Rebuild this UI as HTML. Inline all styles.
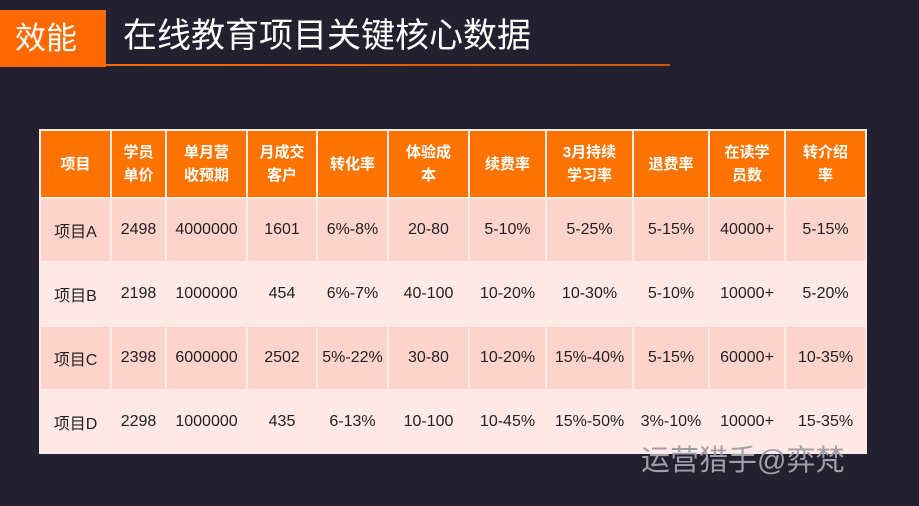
<!DOCTYPE html>
<html><head><meta charset="utf-8">
<style>
body{margin:0;width:919px;height:506px;background:#23202f;position:relative;overflow:hidden;font-family:"Liberation Sans","Noto Sans CJK SC",sans-serif;}
#tag{position:absolute;left:0;top:10px;width:106px;height:57px;background:#ff6a00;color:#fff;font-size:31px;line-height:57px;padding-left:15px;box-sizing:border-box;}
#title{position:absolute;left:123px;top:13px;color:#fff;font-size:34px;line-height:46px;}
#line{position:absolute;left:106px;top:64px;width:564px;height:2px;background:linear-gradient(90deg,#ff6a00,#c85a10);}
table{position:absolute;left:39px;top:129px;border-collapse:collapse;table-layout:fixed;}
td,th{border:2px solid #fbeae6;text-align:center;padding:0;font-size:16px;color:#222;}
th{background:#ff7300;color:#fff;font-weight:bold;height:66px;line-height:23px;font-size:15px;}
tr.a td{background:#fed3cb;height:62px;}
tr.b td{background:#ffe9e6;height:62px;}
tr.last td{height:61px;}
#wm{position:absolute;left:641px;top:437px;color:#a09fa5;font-size:29px;}
</style></head><body>
<div id="tag">效能</div>
<div id="title">在线教育项目关键核心数据</div>
<div id="line"></div>
<table>
<colgroup><col style="width:71px"><col style="width:55px"><col style="width:81px"><col style="width:70px"><col style="width:71px"><col style="width:81px"><col style="width:77px"><col style="width:87px"><col style="width:76px"><col style="width:76px"><col style="width:81px"></colgroup>
<tr><th>项目</th><th>学员<br>单价</th><th>单月营<br>收预期</th><th>月成交<br>客户</th><th>转化率</th><th>体验成<br>本</th><th>续费率</th><th>3月持续<br>学习率</th><th>退费率</th><th>在读学<br>员数</th><th>转介绍<br>率</th></tr>
<tr class="a"><td>项目A</td><td>2498</td><td>4000000</td><td>1601</td><td>6%-8%</td><td>20-80</td><td>5-10%</td><td>5-25%</td><td>5-15%</td><td>40000+</td><td>5-15%</td></tr>
<tr class="b"><td>项目B</td><td>2198</td><td>1000000</td><td>454</td><td>6%-7%</td><td>40-100</td><td>10-20%</td><td>10-30%</td><td>5-10%</td><td>10000+</td><td>5-20%</td></tr>
<tr class="a"><td>项目C</td><td>2398</td><td>6000000</td><td>2502</td><td>5%-22%</td><td>30-80</td><td>10-20%</td><td>15%-40%</td><td>5-15%</td><td>60000+</td><td>10-35%</td></tr>
<tr class="b last"><td>项目D</td><td>2298</td><td>1000000</td><td>435</td><td>6-13%</td><td>10-100</td><td>10-45%</td><td>15%-50%</td><td>3%-10%</td><td>10000+</td><td>15-35%</td></tr>
</table>
<div id="wm">运营猎手@弈梵</div>
</body></html>
